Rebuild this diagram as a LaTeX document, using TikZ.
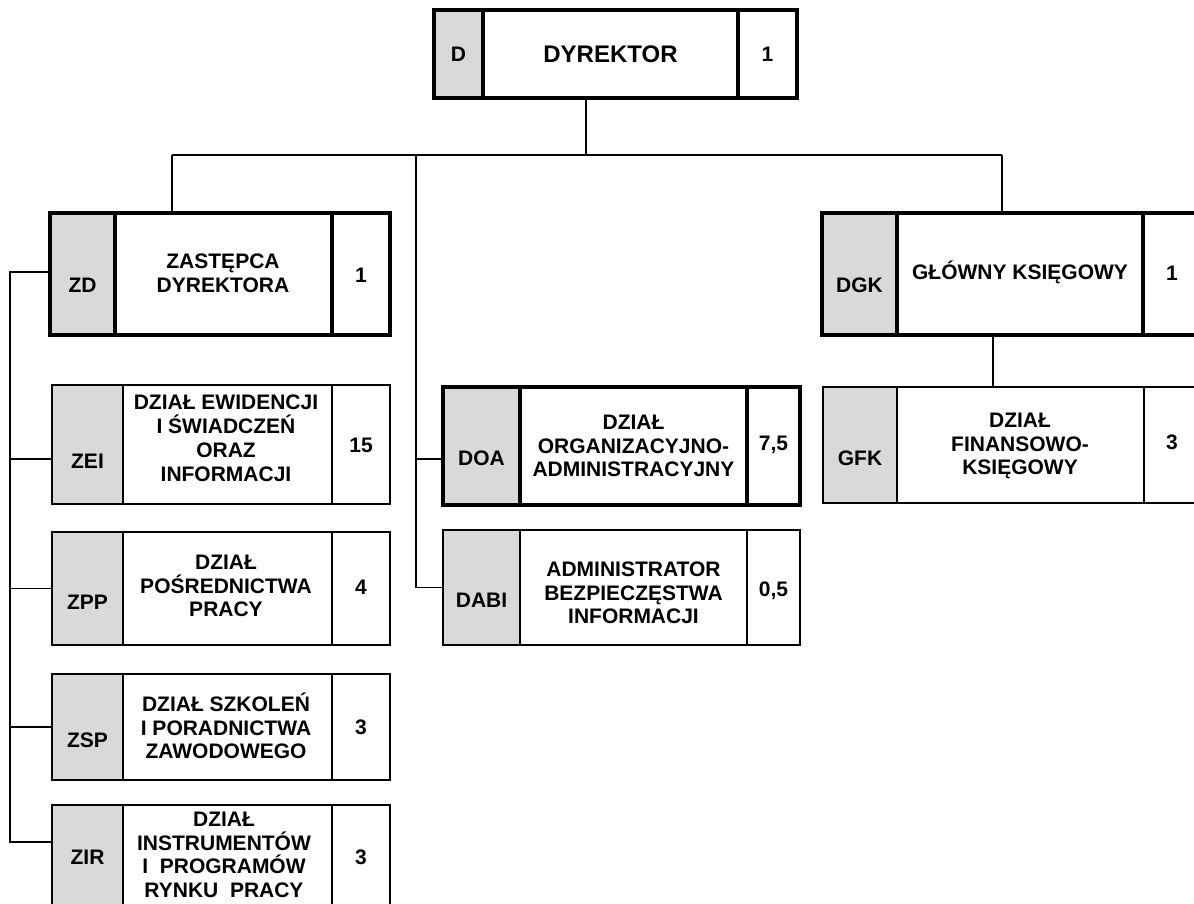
\documentclass[tikz,border=0pt]{standalone}
\usepackage{fontspec}
\setmainfont{Liberation Sans}
\definecolor{boxgrey}{HTML}{D9D9D9}
\newcommand\mycell[6]{%
  \node[cell,#2,minimum width={(#5-#3)*1pt},minimum height={(#6-#4)*1pt}] (#1) at (#3,#4) {};}
\begin{document}
\begin{tikzpicture}[x=1pt,y=-1pt,
  cell/.style={draw,inner sep=0pt,outer sep=0pt,anchor=north west},
  heavy/.style={line width=3.5pt},
  light/.style={line width=1.5pt},
  grey/.style={fill=boxgrey},
  txt/.style={font=\bfseries\fontsize{21}{23.5}\selectfont,align=center,inner sep=0pt},
  bigtxt/.style={font=\bfseries\fontsize{24}{28}\selectfont,align=center,inner sep=0pt},
  link/.style={line width=1.2pt}]
\useasboundingbox (0,0) rectangle (1194,903);
\clip (0,0) rectangle (1194,903);

% ---- D
\mycell{d-l}{heavy,grey}{434}{10}{483}{98}
\mycell{d-t}{heavy}{483}{10}{738}{98}
\mycell{d-n}{heavy}{738}{10}{797}{98}
\node[txt] (d-lab) at (458.5,54) {D};
\node[bigtxt] (d-txt) at (610.5,54) {DYREKTOR};
\node[txt] (d-num) at (767.5,54) {1};

% ---- ZD
\mycell{zd-l}{heavy,grey}{50}{213}{115}{335}
\mycell{zd-t}{heavy}{115}{213}{332}{335}
\mycell{zd-n}{heavy}{332}{213}{390}{335}
\node[txt] (zd-lab) at (82.5,285) {ZD};
\node[txt] (zd-txt) at (223,273.5) {ZASTĘPCA\\DYREKTORA};
\node[txt] (zd-num) at (361,275) {1};

% ---- DGK
\mycell{dgk-l}{heavy,grey}{822}{213}{897}{335}
\mycell{dgk-t}{heavy}{897}{213}{1143}{335}
\mycell{dgk-n}{heavy}{1143}{213}{1205}{335}
\node[txt] (dgk-lab) at (859.5,285) {DGK};
\node[txt] (dgk-txt) at (1020,272) {GŁÓWNY KSIĘGOWY};
\node[txt] (dgk-num) at (1172,273) {1};

% ---- ZEI
\mycell{zei-l}{light,grey}{52}{385}{123}{504}
\mycell{zei-t}{light}{123}{385}{332}{504}
\mycell{zei-n}{light}{332}{385}{390}{504}
\node[txt] (zei-lab) at (87.5,461) {ZEI};
\node[txt,font=\bfseries\fontsize{21}{24}\selectfont] (zei-txt) at (226,438.5) {DZIAŁ EWIDENCJI\\I ŚWIADCZEŃ\\ORAZ\\INFORMACJI};
\node[txt] (zei-num) at (361,445) {15};

% ---- ZPP
\mycell{zpp-l}{light,grey}{52}{532}{123}{645}
\mycell{zpp-t}{light}{123}{532}{332}{645}
\mycell{zpp-n}{light}{332}{532}{390}{645}
\node[txt] (zpp-lab) at (87.5,602) {ZPP};
\node[txt] (zpp-txt) at (226,586) {DZIAŁ\\POŚREDNICTWA\\PRACY};
\node[txt] (zpp-num) at (361,587) {4};

% ---- ZSP
\mycell{zsp-l}{light,grey}{52}{674}{123}{780}
\mycell{zsp-t}{light}{123}{674}{332}{780}
\mycell{zsp-n}{light}{332}{674}{390}{780}
\node[txt] (zsp-lab) at (87.5,740) {ZSP};
\node[txt] (zsp-txt) at (226,726) {DZIAŁ SZKOLEŃ\\I PORADNICTWA\\ZAWODOWEGO};
\node[txt] (zsp-num) at (361,727) {3};

% ---- ZIR
\mycell{zir-l}{light,grey}{52}{805}{123}{915}
\mycell{zir-t}{light}{123}{805}{332}{915}
\mycell{zir-n}{light}{332}{805}{390}{915}
\node[txt] (zir-lab) at (87.5,857) {ZIR};
\node[txt] (zir-txt) at (224,855) {DZIAŁ\\INSTRUMENTÓW\\I~~PROGRAMÓW\\RYNKU~~PRACY};
\node[txt] (zir-num) at (361,857) {3};

% ---- DOA
\mycell{doa-l}{heavy,grey}{443}{387}{520}{505}
\mycell{doa-t}{heavy}{520}{387}{747}{505}
\mycell{doa-n}{heavy}{747}{387}{800}{505}
\node[txt] (doa-lab) at (481.5,458) {DOA};
\node[txt] (doa-txt) at (633.5,446) {DZIAŁ\\ORGANIZACYJNO-\\ADMINISTRACYJNY};
\node[txt] (doa-num) at (773.5,445) {7,5};

% ---- DABI
\mycell{dabi-l}{light,grey}{443}{530}{520}{645}
\mycell{dabi-t}{light}{520}{530}{747}{645}
\mycell{dabi-n}{light}{747}{530}{800}{645}
\node[txt] (dabi-lab) at (481.5,600) {DABI};
\node[txt] (dabi-txt) at (633.5,593) {ADMINISTRATOR\\BEZPIECZĘSTWA\\INFORMACJI};
\node[txt] (dabi-num) at (773.5,591) {0,5};

% ---- GFK
\mycell{gfk-l}{light,grey}{823}{387}{897}{503}
\mycell{gfk-t}{light}{897}{387}{1144}{503}
\mycell{gfk-n}{light}{1144}{387}{1205}{503}
\node[txt] (gfk-lab) at (860,458) {GFK};
\node[txt] (gfk-txt) at (1020,446) {DZIAŁ\\FINANSOWO-\\KSIĘGOWY};
\node[txt] (gfk-num) at (1172,442) {3};

% ---- connectors
\coordinate (jD) at (586,155);
\coordinate (jL) at (172,155);
\coordinate (jR) at (1002,155);
\coordinate (jM) at (416,155);
\coordinate (zbus) at (10,0);
\coordinate (gk) at (993,0);
\coordinate (zd-in) at ([yshift=2pt]zd-l.west);
\coordinate (zei-in) at ([yshift=-14.5pt]zei-l.west);
\coordinate (zir-in) at ([yshift=18pt]zir-l.west);
\coordinate (doa-in) at ([yshift=-13pt]doa-l.west);

\draw[link] (d-t.south -| jD) -- (jD);
\draw[link] (jL) -- (jR);
\draw[link] (jL) -- (jL |- zd-t.north);
\draw[link] (jR) -- (jR |- dgk-t.north);
\draw[link] (jM) -- (jM |- dabi-l.west) -- (dabi-l.west);
\draw[link] (jM |- doa-in) -- (doa-in);
\draw[link] (gk |- dgk-t.south) -- (gk |- gfk-t.north);

\draw[link] (zd-in) -- (zbus |- zd-in) -- (zbus |- zir-in) -- (zir-in);
\draw[link] (zbus |- zei-in) -- (zei-in);
\draw[link] (zbus |- zpp-l.west) -- (zpp-l.west);
\draw[link] (zbus |- zsp-l.west) -- (zsp-l.west);
\end{tikzpicture}
\end{document}
